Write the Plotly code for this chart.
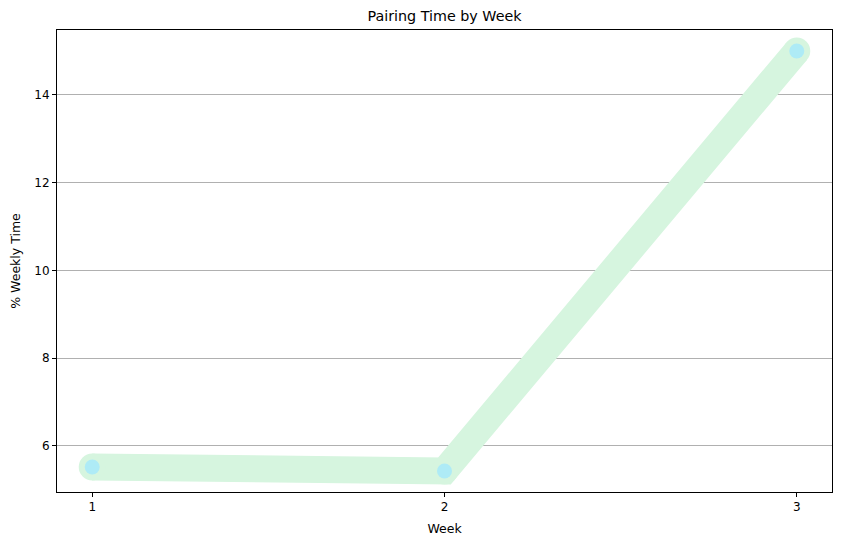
import plotly.graph_objects as go

weeks = [1, 2, 3]
pairing_pct = [5.52, 5.43, 15.0]

fig = go.Figure()

# thick line with round ends (markers of same colour fake the round caps/joins)
fig.add_trace(go.Scatter(x=weeks, y=pairing_pct, mode='lines+markers',
                         line=dict(color='#d6f5df', width=27),
                         marker=dict(color='#d6f5df', size=27, line=dict(width=0)),
                         hoverinfo='skip', showlegend=False))
fig.add_trace(go.Scatter(x=weeks, y=pairing_pct, mode='markers',
                         marker=dict(color='#aeebf6', size=15, line=dict(width=0)),
                         showlegend=False))

axis_common = dict(showline=True, linecolor='black', linewidth=1, mirror=True,
                   ticks='outside', ticklen=4, tickcolor='black', zeroline=False,
                   automargin=False, tickfont=dict(size=12, color='black'))

fig.update_xaxes(range=[0.9, 3.1], tickvals=weeks, showgrid=False,
                 title=dict(text='Week', font=dict(size=12.5), standoff=10), **axis_common)
fig.update_yaxes(range=[4.95, 15.48], tickvals=[6, 8, 10, 12, 14], showgrid=True,
                 gridcolor='#b0b0b0', gridwidth=1,
                 title=dict(text='% Weekly Time', font=dict(size=12.5), standoff=10), **axis_common)

fig.update_layout(
    width=834, height=537,
    margin=dict(l=49, r=10, t=22, b=53),
    plot_bgcolor='white', paper_bgcolor='white',
    font=dict(family='DejaVu Sans', color='black'),
    title=dict(text='Pairing Time by Week', x=0.5, xanchor='center', xref='paper',
               y=0.985, yanchor='middle', font=dict(size=14.3)),
)

fig.write_html("out.html")
